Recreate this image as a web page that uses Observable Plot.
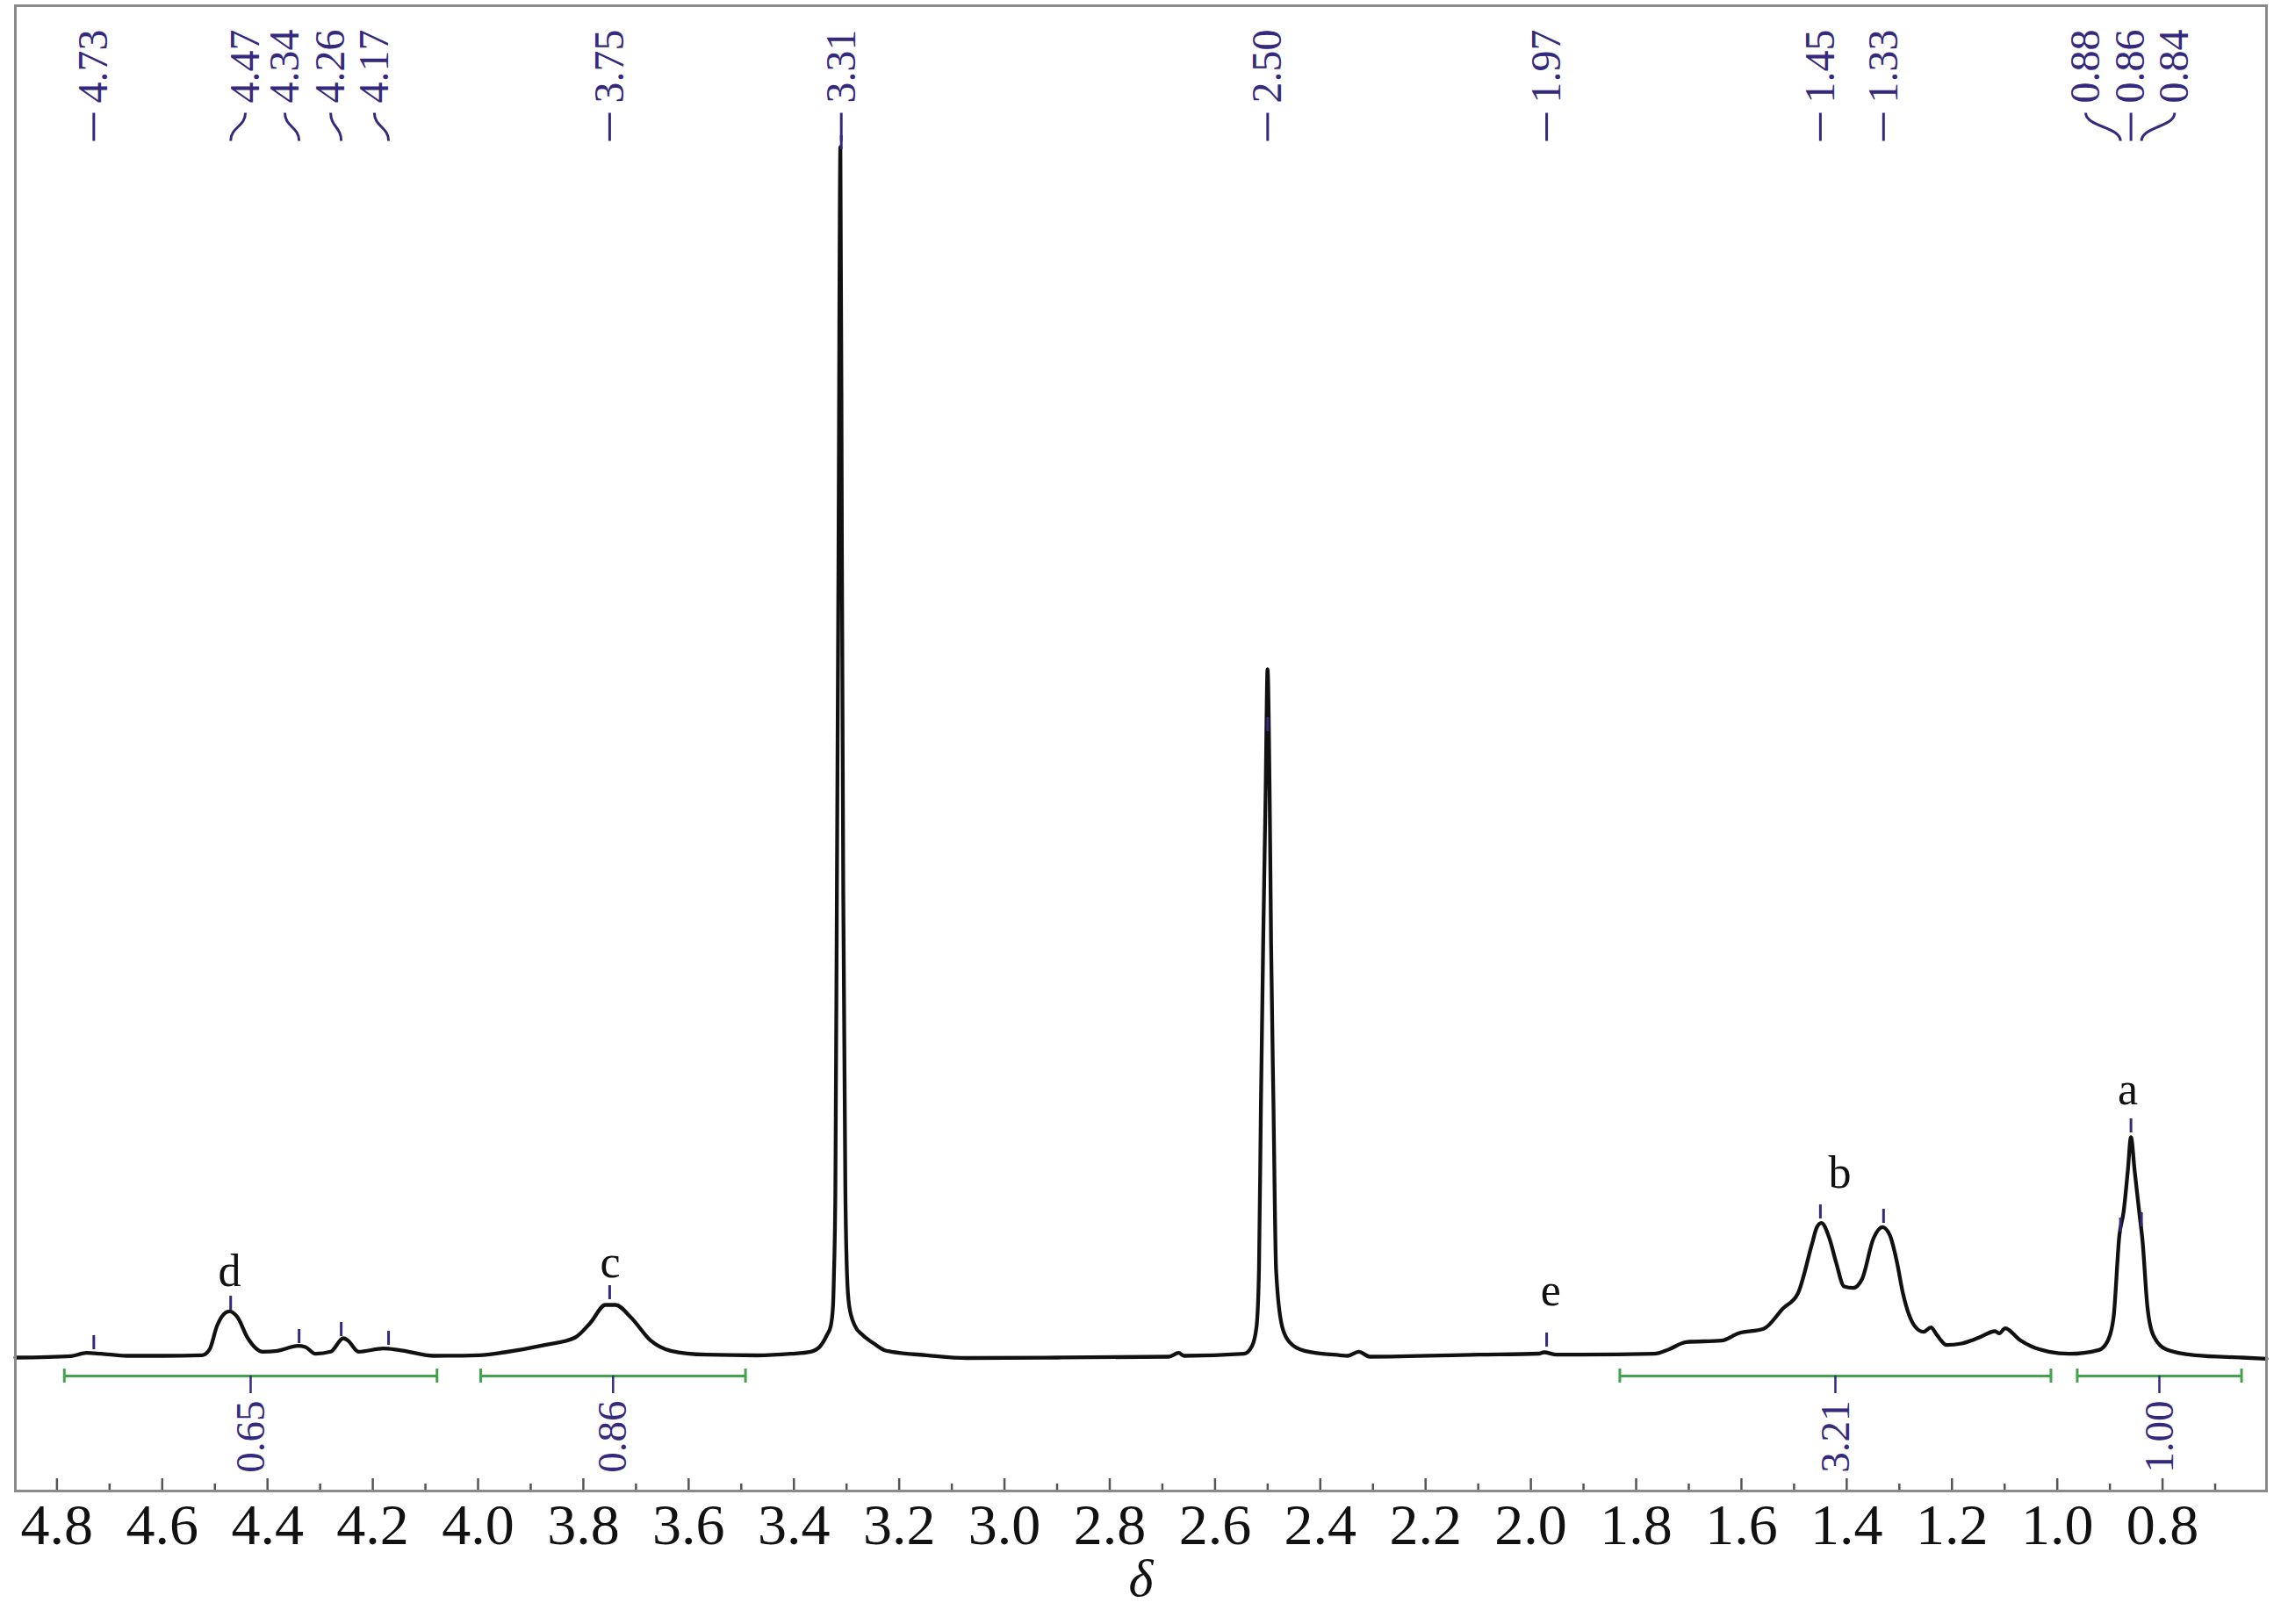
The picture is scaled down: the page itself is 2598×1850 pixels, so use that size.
<!DOCTYPE html>
<html>
<head>
<meta charset="utf-8">
<script src="https://cdn.jsdelivr.net/npm/d3@7"></script>
<script src="https://cdn.jsdelivr.net/npm/@observablehq/plot@0.6"></script>
<style>
  html, body { margin: 0; padding: 0; background: #fff; }
  svg { display: block; }
</style>
</head>
<body>
<div id="chart"></div>
<script>
// ---- Spectrum trace (chemical shift δ, intensity) ----
const shift = [4.879,4.773,4.744,4.716,4.668,4.600,4.524,4.510,4.496,4.480,4.472,4.457,4.438,4.409,4.381,4.342,4.328,4.309,4.280,4.256,4.247,4.227,4.180,4.151,4.084,3.998,3.950,3.873,3.816,3.787,3.758,3.739,3.710,3.672,3.634,3.567,3.471,3.406,3.368,3.350,3.337,3.330,3.3257,3.3240,3.3212,3.3184,3.3154,3.3117,3.3087,3.3062,3.3023,3.2990,3.2950,3.284,3.270,3.248,3.2261,3.215,3.148,3.071,2.900,2.688,2.669,2.659,2.545,2.530,2.521,2.5165,2.5128,2.5085,2.5040,2.5002,2.4962,2.4935,2.4890,2.4840,2.4728,2.4585,2.4298,2.363,2.348,2.327,2.306,2.100,1.985,1.975,1.951,1.905,1.766,1.738,1.705,1.638,1.605,1.558,1.521,1.493,1.466,1.457,1.448,1.433,1.420,1.405,1.388,1.371,1.349,1.332,1.318,1.305,1.293,1.271,1.254,1.240,1.229,1.210,1.182,1.149,1.118,1.110,1.099,1.071,1.049,1.016,0.977,0.921,0.904,0.893,0.882,0.874,0.866,0.860,0.853,0.844,0.838,0.829,0.818,0.793,0.738,0.649,0.6025];
const intensity = [0,1.7,5.3,4.3,2,2,2.7,9.3,36,51,52.7,46,22.7,6.7,7.7,13.3,12,4.3,6.7,22,19.3,6.7,10.3,8.7,2,2.7,6,14.3,22.7,39.3,60,60,46,19.3,7.7,3.3,2.5,4.3,6.7,13,26,36,59,93,193,526,900,1379,900,526,193,93,59,36,26,16,8,6.7,2.7,-0.5,0,1,5.3,2,4.3,12.7,36,100,289,473,639,784,639,473,289,100,36,17.7,7.7,2.7,2,6.7,1,3.3,4.5,6,3.3,3.3,4.3,9.3,17.7,19.3,27.7,32.7,56,72.7,129.3,148,153.3,136,108,81,79.3,89.3,136,148.7,139.3,110,72.7,36,29.3,34.3,26,14.3,16,22.7,30,27.7,33.3,20,12.7,6.7,4.3,8.7,19.3,46,139.3,166,212.7,251,212.7,164.3,132.7,59.3,26,9.3,2.7,0,-1.3];

// ---- Peak picking ----
const peakShifts   = [4.73, 4.47, 4.34, 4.26, 4.17, 3.75, 3.31, 2.50, 1.97, 1.45, 1.33, 0.88, 0.86, 0.84];
const peakLabels   = ["4.73","4.47","4.34","4.26","4.17","3.75","3.31","2.50","1.97","1.45","1.33","0.88","0.86","0.84"];
const peakLabelAt  = [4.73, 4.442, 4.367, 4.280, 4.197, 3.75, 3.31, 2.50, 1.97, 1.45, 1.33, 0.946, 0.86, 0.777];
const peakMarkBase = [9, 54, 16, 24, 14, 66, 1376, 713, 12, 158, 153, 143, 256, 149];

// ---- Integrals ----
const integralFrom  = [4.786, 3.995, 1.831, 0.962];
const integralTo    = [4.078, 3.492, 1.012, 0.650];
const integralValue = ["0.65", "0.86", "3.21", "1.00"];

// ---- Group letters ----
const groupLetter = ["a", "b", "c", "d", "e"];
const groupShift  = [0.866, 1.413, 3.749, 4.472, 1.962];
const groupHeight = [305, 210, 108, 98, 76];

// ---- Axis ticks ----
const majorTicks = [4.8,4.6,4.4,4.2,4.0,3.8,3.6,3.4,3.2,3.0,2.8,2.6,2.4,2.2,2.0,1.8,1.6,1.4,1.2,1.0,0.8];
const minorTicks = [4.7,4.5,4.3,4.1,3.9,3.7,3.5,3.3,3.1,2.9,2.7,2.5,2.3,2.1,1.9,1.7,1.5,1.3,1.1,0.9,0.7];

// ---- Build tables ----
const spectrum = shift.map((s, i) => ({shift: s, intensity: intensity[i]}));
const peaks = peakShifts.map((s, i) => ({shift: s, label: peakLabels[i], at: peakLabelAt[i], base: peakMarkBase[i]}));
const integrals = integralFrom.map((f, i) => ({from: f, to: integralTo[i], mid: (f + integralTo[i]) / 2, value: integralValue[i]}));
const groups = groupLetter.map((g, i) => ({letter: g, shift: groupShift[i], h: groupHeight[i]}));

const PURPLE = "#34297c";
const GREEN = "#43a34c";
const SERIF = "Liberation Serif, Times New Roman, serif";

// vertical layout levels (intensity units)
const Y_BOTTOM = -152, Y_TOP = 1540;
const LBL_TEXT = 1429, LBL_LINE_TOP = 1418, LBL_LINE_BOT = 1386;
const INT_Y = -21;

const chart = Plot.plot({
  width: 2598,
  height: 1850,
  marginLeft: 17,
  marginRight: 17,
  marginTop: 6,
  marginBottom: 152,
  style: {background: "#fff", fontFamily: SERIF},
  x: {domain: [4.879, 0.6025], axis: null},
  y: {domain: [Y_BOTTOM, Y_TOP], axis: null},
  marks: [
    // axis ticks (inward)
    Plot.ruleX(majorTicks, {x: d => d, y1: Y_BOTTOM, y2: Y_BOTTOM + 14, stroke: "#555", strokeWidth: 2.5}),
    Plot.ruleX(minorTicks, {x: d => d, y1: Y_BOTTOM, y2: Y_BOTTOM + 8, stroke: "#555", strokeWidth: 2.5}),
    Plot.axisX({ticks: majorTicks, anchor: "bottom", tickSize: 0, tickPadding: 14,
      tickFormat: d => d.toFixed(1), fontSize: 66, fontFamily: SERIF, fill: "#111", label: null,
      ariaLabel: "tick-labels"}),
    Plot.text(["δ"], {frameAnchor: "bottom", dy: 119, text: d => d, fontSize: 60, fontStyle: "italic", fontFamily: SERIF, fill: "#111"}),

    // integrals
    Plot.ruleY(integrals, {y: INT_Y, x1: "from", x2: "to", stroke: GREEN, strokeWidth: 3}),
    Plot.ruleX(integrals, {x: "from", y1: INT_Y - 8, y2: INT_Y + 8, stroke: GREEN, strokeWidth: 3}),
    Plot.ruleX(integrals, {x: "to", y1: INT_Y - 8, y2: INT_Y + 8, stroke: GREEN, strokeWidth: 3}),
    Plot.ruleX(integrals, {x: "mid", y1: INT_Y, y2: INT_Y - 20, stroke: PURPLE, strokeWidth: 2.5}),
    Plot.text(integrals, {x: "mid", y: INT_Y - 28, text: "value", rotate: -90, textAnchor: "end",
      fontSize: 47, fontFamily: SERIF, fill: PURPLE}),

    // spectrum
    Plot.line(spectrum, {x: "shift", y: "intensity", curve: "monotone-x", stroke: "#111", strokeWidth: 4.3, strokeLinejoin: "round"}),

    // peak markers
    Plot.ruleX(peaks, {x: "shift", y1: "base", y2: d => d.base + 16, stroke: PURPLE, strokeWidth: 3}),

    // peak labels with connectors
    Plot.link(peaks, {x1: "at", y1: LBL_LINE_TOP, x2: "shift", y2: LBL_LINE_BOT, curve: "bump-y", stroke: PURPLE, strokeWidth: 3}),
    Plot.text(peaks, {x: "at", y: LBL_TEXT, text: "label", rotate: -90, textAnchor: "start",
      fontSize: 48, fontFamily: SERIF, fill: PURPLE}),

    // group letters
    Plot.text(groups, {x: "shift", y: "h", text: "letter", fontSize: 52, fontFamily: SERIF, fill: "#111"}),

    // frame
    Plot.frame({stroke: "#8a8a8a", strokeWidth: 3})
  ]
});

// slightly taller tick-label glyphs, as in the reference typesetting
d3.select(chart).selectAll('g[aria-label="tick-labels"] text').each(function() {
  const t = this.getAttribute("transform");
  if (t) this.setAttribute("transform", t + " scale(1,1.15)");
});

document.getElementById("chart").appendChild(chart);
</script>
</body>
</html>
